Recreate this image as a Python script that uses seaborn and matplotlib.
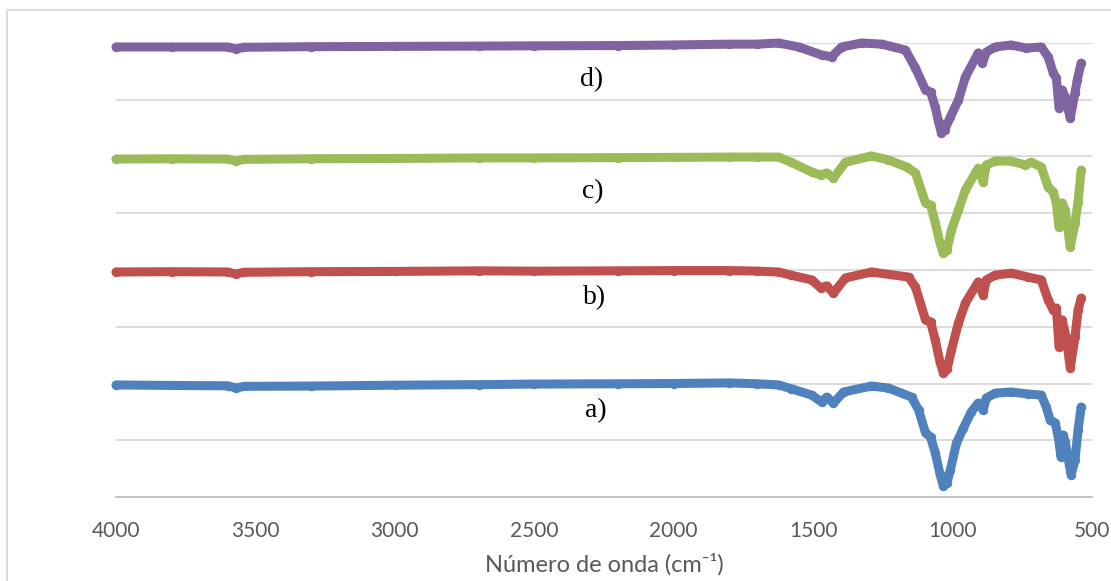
import numpy as np
import pandas as pd
import matplotlib
matplotlib.use("Agg")
import matplotlib.pyplot as plt
import seaborn as sns

# wavenumbers (cm-1) and spectra (offset curves, arbitrary units)
wn_a = [4000, 3800, 3600, 3570, 3540, 3300, 3000, 2700, 2500, 2200, 2000, 1800, 1700, 1624,
        1580, 1505, 1470, 1452, 1427, 1391, 1291, 1230, 1147, 1122, 1097, 1079, 1062, 1045,
        1033, 1020, 1008, 986, 961, 933, 908, 890, 879, 847, 790, 729, 682, 664, 650, 632,
        621, 611, 603, 596, 575, 561, 550, 539]
a_vals = [39.5, 39.3, 39.2, 38.4, 39.0, 39.1, 39.4, 39.6, 39.8, 39.9, 40.0, 40.2, 39.9, 39.5,
          38.2, 35.9, 33.5, 35.2, 33.1, 37.0, 39.1, 38.4, 35.2, 30.7, 22.6, 21.1, 15.5, 8.0,
          3.9, 5.0, 9.5, 19.0, 24.3, 30.0, 33.1, 30.7, 34.9, 36.6, 37.0, 36.3, 35.9, 31.7,
          27.1, 26.1, 21.1, 14.1, 21.8, 19.4, 7.8, 13.0, 23.6, 31.7]

wn_b = [4000, 3800, 3600, 3570, 3540, 3300, 3000, 2700, 2500, 2200, 2000, 1800, 1700, 1624,
        1580, 1505, 1473, 1452, 1427, 1384, 1291, 1158, 1133, 1097, 1079, 1062, 1045, 1033,
        1020, 1004, 979, 954, 908, 890, 879, 847, 790, 729, 682, 657, 639, 628, 618, 607, 593,
        578, 561, 550, 539]
b_vals = [79.3, 79.4, 79.3, 78.6, 79.2, 79.4, 79.5, 79.7, 79.6, 79.7, 79.8, 79.8, 79.6, 79.3,
          78.2, 76.5, 73.7, 74.4, 71.9, 77.2, 79.3, 77.5, 74.0, 62.4, 61.7, 55.3, 47.5, 43.7,
          45.0, 51.8, 61.3, 68.4, 75.8, 71.2, 76.5, 78.2, 78.9, 77.5, 76.5, 69.4, 65.9, 66.6,
          52.9, 62.4, 56.4, 45.5, 56.4, 65.9, 70.1]

wn_c = [4000, 3800, 3600, 3570, 3540, 3300, 3000, 2700, 2500, 2200, 2000, 1800, 1700, 1624,
        1580, 1505, 1473, 1452, 1427, 1384, 1291, 1230, 1165, 1133, 1097, 1079, 1062, 1045,
        1033, 1020, 1004, 979, 954, 908, 890, 879, 847, 790, 739, 718, 682, 657, 639, 628,
        618, 607, 596, 578, 561, 550, 539]
c_vals = [119.1, 119.2, 119.1, 118.4, 119.0, 119.2, 119.3, 119.5, 119.5, 119.6, 119.7, 119.8,
          119.8, 119.8, 118.0, 114.5, 113.5, 114.2, 112.4, 118.0, 120.2, 118.8, 116.3, 114.2,
          103.6, 102.9, 96.6, 89.5, 86.0, 87.2, 94.1, 101.1, 108.2, 115.9, 111.0, 117.0, 118.4,
          118.4, 117.0, 118.0, 116.3, 109.2, 107.5, 103.6, 95.1, 103.6, 101.1, 88.1, 96.6,
          104.0, 115.2]

wn_d = [4000, 3800, 3600, 3570, 3540, 3300, 3000, 2700, 2500, 2200, 2000, 1800, 1700, 1624,
        1552, 1470, 1434, 1398, 1326, 1254, 1169, 1133, 1097, 1079, 1062, 1050, 1040, 1028,
        1008, 979, 954, 908, 893, 879, 847, 790, 736, 682, 657, 639, 628, 618, 607, 596, 578,
        561, 553, 539]
d_vals = [158.6, 158.6, 158.6, 157.9, 158.5, 158.7, 158.8, 158.9, 159.0, 159.1, 159.3, 159.6,
          159.6, 160.0, 158.6, 155.8, 155.1, 158.6, 160.0, 159.6, 157.5, 151.2, 143.4, 142.7,
          137.4, 132.0, 128.3, 129.5, 133.9, 139.9, 148.0, 156.5, 152.9, 156.8, 158.6, 159.3,
          158.2, 158.6, 155.1, 149.4, 147.7, 137.1, 143.4, 140.9, 133.6, 142.4, 146.9, 152.9]

labels = ["a)", "b)", "c)", "d)"]
label_x = [2278, 2285, 2290, 2295]
label_y = [30.3, 70.1, 107.5, 147.0]
colors = ["#4F81BD", "#C0504D", "#9BBB59", "#8064A2"]

frames = []
for lab, wn, vals in zip(labels, [wn_a, wn_b, wn_c, wn_d], [a_vals, b_vals, c_vals, d_vals]):
    frames.append(pd.DataFrame({"wn": wn, "val": vals, "serie": lab}))
df = pd.concat(frames, ignore_index=True)

sns.set_style("white")
fig = plt.figure(figsize=(11.11, 5.81), dpi=100)
ax = fig.add_axes([116 / 1111, 1 - 497 / 581, (1092 - 116) / 1111, (497 - 43) / 581])

for lab, col in zip(labels, colors):
    sub = df[df.serie == lab]
    sns.lineplot(data=sub, x="wn", y="val", ax=ax, color=col, lw=6.5, marker="o", ms=6,
                 mec=col, estimator=None, sort=False, legend=False,
                 solid_capstyle="round", solid_joinstyle="round", clip_on=False, zorder=3)

for lab, x, y in zip(labels, label_x, label_y):
    ax.text(x, y, lab, family="Liberation Serif", fontsize=20, ha="center", va="center",
            color="black")

ax.set_xlim(4000, 500)
ax.set_ylim(0, 160)
ax.set_xticks([4000, 3500, 3000, 2500, 2000, 1500, 1000, 500])
ax.set_yticks(np.arange(0, 161, 20))
ax.set_yticklabels([])
ax.yaxis.grid(True, color="#D9D9D9", lw=1.3)
ax.set_axisbelow(True)
for s in ["left", "right", "top"]:
    ax.spines[s].set_visible(False)
ax.spines["bottom"].set_color("#BFBFBF")
ax.spines["bottom"].set_linewidth(1.3)
ax.tick_params(axis="x", direction="inout", length=10, width=1.3, color="#BFBFBF",
               labelsize=15, labelcolor="#595959", pad=12)
ax.tick_params(axis="y", length=0)
for t in ax.get_xticklabels():
    t.set_family("Lato")
ax.set_xlabel("Número de onda (cm⁻¹)", fontsize=17, color="#595959",
              family=["Lato", "DejaVu Sans"], labelpad=9)
ax.set_ylabel("")

# chart area border
fig.patches.append(plt.Rectangle((7 / 1111, -0.1), 1.2, 1 - 10 / 581 + 0.1,
                                 transform=fig.transFigure, fill=False,
                                 ec="#D9D9D9", lw=1.3))

fig.savefig("out.png", dpi=100)
